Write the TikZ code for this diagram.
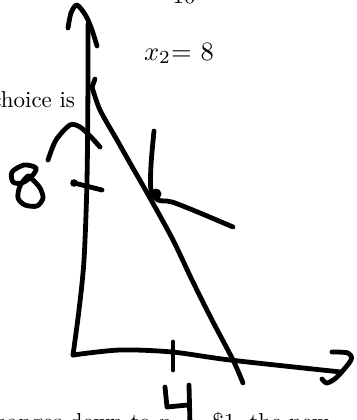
\documentclass[tikz,border=0pt]{standalone}
\begin{document}
\begin{tikzpicture}[x=1pt,y=-1pt,
  ink/.style={line width=4.8pt, line cap=round, line join=round},
  txt/.style={inner sep=0pt, scale=2.3, font=\normalsize},
  eqtxt/.style={inner sep=0pt, scale=2.65, font=\normalsize}]
\useasboundingbox (0,0) rectangle (356,420);
\clip (0,0) rectangle (356,420);
% texts
\node[txt, anchor=base] (ten) at (184,3.5) {10};
\node[eqtxt, anchor=base west] (eq) at (143.5,60) {$x_2$= 8};
\node[txt, anchor=base east] (choice) at (75.5,107) {choice is};
\node[txt, anchor=base west] (bottom) at (-15.7,429) {changes down to $p_1 =$ \$1, the new};
% axes
\coordinate (O) at (73,355);
\draw[ink] plot[smooth] coordinates {(88,24) (88,80) (87,180) (84,260) (79,310) (73,355)};
\draw[ink] plot[smooth] coordinates {(73,355) (120,350) (172,352) (230,360) (341,372)};
% y arrowhead
\draw[ink] plot[smooth] coordinates {(68,28) (71,13) (77,5) (86,16) (92,30) (97,46)};
% x arrowhead
\draw[ink] plot[smooth] coordinates {(332,352) (348,353) (351,360) (337,377) (327,383) (322,379)};
% budget line
\draw[ink] (95,79) -- (92,87);
\draw[ink] plot[smooth] coordinates {(92,87) (100,110) (117,140) (130,163) (150,198) (173,240) (192,280) (212,320) (233,360) (243,383)};
% indifference stroke with dot
\draw[ink] plot[smooth] coordinates {(154,131) (151,165) (151,190) (158,200) (172,202) (200,213) (233,227)};
\fill (156,194) circle (5.5);
% y tick and label 8
\draw[ink] (74,183) -- (102,190);
\fill (74,183) circle (3.8);
\draw[ink] plot[smooth] coordinates {(48,160) (56,140) (70,125) (80,127) (90,136) (100,147)};
\draw[ink] plot[smooth cycle] coordinates {(36,168) (24,165) (12,172) (13,182) (22,183) (32,176)};
\draw[ink] plot[smooth cycle] coordinates {(28,176) (20,186) (18,198) (25,205) (37,206) (43,198) (40,188) (33,180)};
% x tick and label 4
\draw[ink] (173,342) -- (173,370);
\draw[ink] (165,387) -- (167,407) -- (188,405);
\draw[ink] (189,385) -- (190,425);
\end{tikzpicture}
\end{document}
